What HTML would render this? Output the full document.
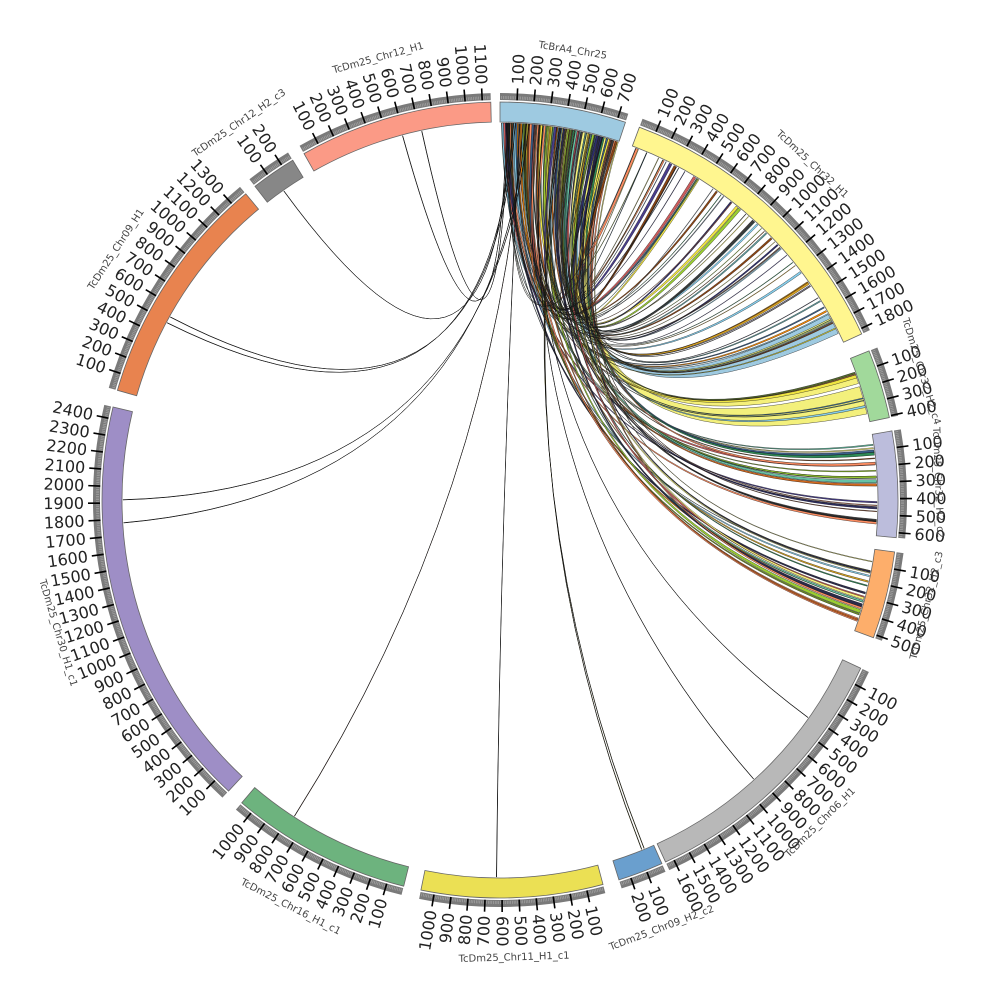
<!DOCTYPE html>
<html><head><meta charset="utf-8"><style>
html,body{margin:0;padding:0;background:#fff}
svg{display:block}
.tl text{font-family:"DejaVu Sans","Liberation Sans",sans-serif;font-size:16px;fill:#222;dominant-baseline:central}
.nm text{font-family:"DejaVu Sans","Liberation Sans",sans-serif;font-size:10px;fill:#444;text-anchor:middle;dominant-baseline:central}
</style></head><body>
<svg id="s" width="1000" height="1000" viewBox="0 0 1000 1000" xmlns="http://www.w3.org/2000/svg">
<g id="links"></g>
<g id="ring"></g>
<g class="tl">
<g id="L0"><text>100</text><text>200</text><text>300</text><text>400</text><text>500</text><text>600</text><text>700</text></g>
<g id="L1"><text>100</text><text>200</text><text>300</text><text>400</text><text>500</text><text>600</text><text>700</text><text>800</text><text>900</text><text>1000</text><text>1100</text><text>1200</text><text>1300</text><text>1400</text><text>1500</text><text>1600</text><text>1700</text><text>1800</text></g>
<g id="L2"><text>100</text><text>200</text><text>300</text><text>400</text></g>
<g id="L3"><text>100</text><text>200</text><text>300</text><text>400</text><text>500</text><text>600</text></g>
<g id="L4"><text>100</text><text>200</text><text>300</text><text>400</text><text>500</text></g>
<g id="L5"><text>100</text><text>200</text><text>300</text><text>400</text><text>500</text><text>600</text><text>700</text><text>800</text><text>900</text><text>1000</text><text>1100</text><text>1200</text><text>1300</text><text>1400</text><text>1500</text><text>1600</text></g>
<g id="L6"><text>100</text><text>200</text></g>
<g id="L7"><text>100</text><text>200</text><text>300</text><text>400</text><text>500</text><text>600</text><text>700</text><text>800</text><text>900</text><text>1000</text></g>
<g id="L8"><text>100</text><text>200</text><text>300</text><text>400</text><text>500</text><text>600</text><text>700</text><text>800</text><text>900</text><text>1000</text></g>
<g id="L9"><text>100</text><text>200</text><text>300</text><text>400</text><text>500</text><text>600</text><text>700</text><text>800</text><text>900</text><text>1000</text><text>1100</text><text>1200</text><text>1300</text><text>1400</text><text>1500</text><text>1600</text><text>1700</text><text>1800</text><text>1900</text><text>2000</text><text>2100</text><text>2200</text><text>2300</text><text>2400</text></g>
<g id="L10"><text>100</text><text>200</text><text>300</text><text>400</text><text>500</text><text>600</text><text>700</text><text>800</text><text>900</text><text>1000</text><text>1100</text><text>1200</text><text>1300</text></g>
<g id="L11"><text>100</text><text>200</text></g>
<g id="L12"><text>100</text><text>200</text><text>300</text><text>400</text><text>500</text><text>600</text><text>700</text><text>800</text><text>900</text><text>1000</text><text>1100</text></g>
</g>
<g class="nm" id="names">
<text>TcBrA4_Chr25</text>
<text>TcDm25_Chr32_H1</text>
<text>TcDm25_Chr32_H2_c4</text>
<text>TcDm25_Chr32_H2_c2</text>
<text>TcDm25_Chr32_H2_c3</text>
<text>TcDm25_Chr06_H1</text>
<text>TcDm25_Chr09_H2_c2</text>
<text>TcDm25_Chr11_H1_c1</text>
<text>TcDm25_Chr16_H1_c1</text>
<text>TcDm25_Chr30_H1_c1</text>
<text>TcDm25_Chr09_H1</text>
<text>TcDm25_Chr12_H2_c3</text>
<text>TcDm25_Chr12_H1</text>
</g>
</svg>
<script>
(function(){
var C=500,K=0.0245,NS="http://www.w3.org/2000/svg";
var segs=[[0,750,'#9ecae1'],[20.5,1830,'#fff68f'],[68,410,'#a1d99b'],[80,630,'#bcbddc'],[97.5,520,'#fdae6b'],[115,1650,'#b8b8b8'],[156,270,'#6a9fce'],[165,1080,'#ebe054'],[194,1080,'#6db37e'],[223,2470,'#9e8ec6'],[286,1400,'#e8834f'],[322,270,'#878787'],[330.5,1150,'#fb9a86']];
var nameR=[455,458,440,438,440,455,458,458,458,462,458,458,458];
function rad(a){return a*Math.PI/180;}
function pt(a,r){return [C+r*Math.sin(rad(a)),C-r*Math.cos(rad(a))];}
function P(p){return p[0].toFixed(2)+' '+p[1].toFixed(2);}
function el(t,at,par){var e=document.createElementNS(NS,t);for(var k in at)e.setAttribute(k,at[k]);par.appendChild(e);return e;}
var ring=document.getElementById('ring');
function sector(a1,a2,r1,r2,fill,stroke,sw){
 var lg=(a2-a1)>180?1:0;
 var d='M'+P(pt(a1,r1))+' A'+r1+' '+r1+' 0 '+lg+' 1 '+P(pt(a2,r1))+' L'+P(pt(a2,r2))+' A'+r2+' '+r2+' 0 '+lg+' 0 '+P(pt(a1,r2))+'Z';
 el('path',{d:d,fill:fill,stroke:stroke,'stroke-width':sw},ring);
}
segs.forEach(function(s,i){
 var a1=s[0],a2=s[0]+s[1]*K;
 sector(a1,a2,378,398,s[2],'#666',0.8);
 sector(a1,a2,400,407,'#7a7a7a','none',0);
 for(var v=10;v<s[1];v+=10){var a=a1+v*K;if(v%100==0)continue;var p=pt(a,401),q=pt(a,404);el('line',{x1:p[0],y1:p[1],x2:q[0],y2:q[1],stroke:'#aaa','stroke-width':0.6},ring);}
 var ts=document.getElementById('L'+i).getElementsByTagName('text');
 for(var j=0;j<ts.length;j++){
  var v=parseInt(ts[j].textContent),a=a1+v*K;
  var p=pt(a,400),q=pt(a,412);
  el('line',{x1:p[0],y1:p[1],x2:q[0],y2:q[1],stroke:'#000','stroke-width':1.6},ring);
  if(a<180){ts[j].setAttribute('x',916);ts[j].setAttribute('y',500);ts[j].setAttribute('transform','rotate('+(a-90).toFixed(2)+' 500 500)');}
  else{ts[j].setAttribute('x',84);ts[j].setAttribute('y',500);ts[j].setAttribute('text-anchor','end');ts[j].setAttribute('transform','rotate('+(a+90).toFixed(2)+' 500 500)');}
 }
});
var nms=document.getElementById('names').getElementsByTagName('text');
for(var i=0;i<nms.length;i++){
 var s=segs[i],m=s[0]+s[1]*K/2,r=nameR[i];
 if(m<90||m>270){nms[i].setAttribute('x',500);nms[i].setAttribute('y',500-r);nms[i].setAttribute('transform','rotate('+m.toFixed(2)+' 500 500)');}
 else{nms[i].setAttribute('x',500);nms[i].setAttribute('y',500+r);nms[i].setAttribute('transform','rotate('+(m-180).toFixed(2)+' 500 500)');}
}
var links=document.getElementById('links');
var seed=7;function rnd(){seed=(seed*16807)%2147483647;return seed/2147483647;}
var pal=['#2d2d6b','#3a5f8a','#6b8e23','#8b4513','#d2691e','#f0e442','#e8e87a','#4682b4','#2e8b57','#cd5c5c','#9acd32','#708090','#483d8b','#ff8c00','#87ceeb','#556b2f','#daa520','#a0522d','#5f9ea0','#1f3f5f','#f5f07a','#3c3c3c','#66c2a5','#fc8d62','#2a2a4a','#f6f27e'];
function ribbon(a1,a2,b1,b2,col,sw){
 var R=377;
 var am=(a1+a2)/2,bm=(b1+b2)/2;
 var diff=((bm-am+540)%360)-180,m=am+diff/2;
 var rc=30*(1-Math.abs(diff)/180);
 var c=pt(m,rc);
 var d='M'+P(pt(a1,R))+' Q'+P(c)+' '+P(pt(b2,R))+' A'+R+' '+R+' 0 0 0 '+P(pt(b1,R))+' Q'+P(c)+' '+P(pt(a2,R))+' A'+R+' '+R+' 0 0 0 '+P(pt(a1,R))+'Z';
 el('path',{d:d,fill:col,stroke:'#111','stroke-width':sw||0.35,'stroke-linejoin':'round'},links);
}
ribbon(10.8,12.2,60.5,63.8,'#9ecae1');
ribbon(14.6,16.9,72.5,76.8,'#f3f07c');
ribbon(13.0,13.8,70.5,72.0,'#f5f07a');
var a=0.2;
while(a<18.2){
 var w=0.08+rnd()*0.3;if(a+w>18.3)w=18.3-a;
 var r=rnd(),b1,bw=w*(0.7+rnd()*0.9);
 if(r<0.5){b1=21+rnd()*42;}
 else if(r<0.58){b1=68.5+rnd()*8;}
 else if(r<0.8){b1=81+rnd()*13.5;}
 else{b1=98.5+rnd()*11;}
 ribbon(a,a+w,b1,b1+bw,pal[Math.floor(rnd()*pal.length)]);
 a+=w;
}
for(var i=0;i<30;i++){var s=0.3+rnd()*17.8,b=21+rnd()*42;ribbon(s,s+0.06,b,b+0.08,pal[Math.floor(rnd()*pal.length)],0.3);}
var thin=[[6,125.2,'#555'],[6.5,137.7,'#555'],[9,157.5,'#d8c800'],[9.3,157.9,'#d8c800'],[3,180.5,'#333'],[3.5,213,'#b0442a'],[4,266.5,'#333'],[4.4,270,'#333'],[2,298,'#333'],[2.3,299,'#333'],[1.5,325,'#333'],[1,345,'#333'],[1.2,348,'#333']];
thin.forEach(function(t){ribbon(t[0],t[0]+0.05,t[1],t[1]+0.06,t[2],0.5);});
})();
</script>
</body></html>
